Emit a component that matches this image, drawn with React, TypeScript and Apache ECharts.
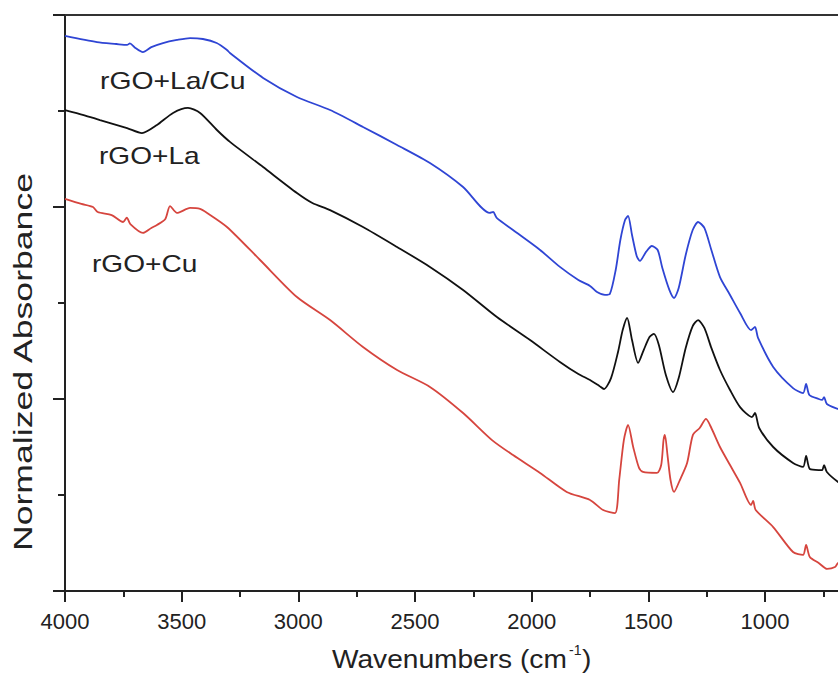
import React, { useEffect, useRef } from "react";
import * as echarts from "echarts";

// Wavenumber (cm-1), normalized absorbance (offset stacked, arbitrary units)
const laCuSpectrum: [number, number][] = [
  [4000, 2.891], [3863, 2.859], [3780, 2.849], [3734, 2.844], [3722, 2.852], [3700, 2.83],
  [3666, 2.807], [3630, 2.833], [3580, 2.854], [3520, 2.87], [3464, 2.88], [3409, 2.875],
  [3350, 2.854], [3306, 2.818], [3293, 2.802], [3151, 2.672], [3006, 2.573], [2864, 2.505],
  [2723, 2.417], [2577, 2.323], [2436, 2.229], [2294, 2.104], [2180, 1.969], [2165, 1.974],
  [2150, 1.943], [2080, 1.88], [1964, 1.776], [1879, 1.688], [1800, 1.62], [1750, 1.589],
  [1720, 1.557], [1686, 1.542], [1665, 1.547], [1640, 1.672], [1620, 1.828], [1600, 1.932],
  [1587, 1.953], [1570, 1.854], [1550, 1.745], [1536, 1.719], [1510, 1.766], [1485, 1.797],
  [1460, 1.776], [1440, 1.682], [1410, 1.568], [1390, 1.526], [1370, 1.578], [1340, 1.75],
  [1310, 1.88], [1287, 1.922], [1260, 1.891], [1230, 1.776], [1193, 1.635], [1150, 1.542],
  [1107, 1.448], [1060, 1.359], [1043, 1.375], [1030, 1.318], [965, 1.167], [880, 1.057],
  [837, 1.031], [824, 1.078], [810, 1.021], [770, 1.0], [755, 0.995], [747, 1.01],
  [735, 0.974], [687, 0.948], [650, 0.932],
];

const laSpectrum: [number, number][] = [
  [4000, 2.505], [3920, 2.479], [3850, 2.453], [3734, 2.411], [3670, 2.385], [3606, 2.427],
  [3537, 2.49], [3473, 2.516], [3421, 2.49], [3349, 2.401], [3293, 2.339], [3151, 2.208],
  [3006, 2.073], [2940, 2.021], [2864, 1.984], [2723, 1.896], [2577, 1.792], [2436, 1.688],
  [2294, 1.568], [2149, 1.427], [2007, 1.307], [1879, 1.193], [1800, 1.13], [1750, 1.099],
  [1710, 1.068], [1690, 1.052], [1660, 1.109], [1630, 1.245], [1610, 1.359], [1591, 1.422],
  [1570, 1.307], [1544, 1.188], [1520, 1.255], [1495, 1.323], [1476, 1.339], [1455, 1.281],
  [1425, 1.125], [1394, 1.036], [1370, 1.109], [1340, 1.266], [1310, 1.38], [1287, 1.411],
  [1260, 1.37], [1230, 1.266], [1193, 1.151], [1150, 1.047], [1107, 0.958], [1056, 0.906],
  [1043, 0.927], [1025, 0.849], [965, 0.75], [880, 0.667], [837, 0.646], [824, 0.703],
  [808, 0.635], [770, 0.63], [755, 0.63], [747, 0.656], [735, 0.62], [687, 0.568], [650, 0.542],
];

const cuSpectrum: [number, number][] = [
  [4000, 2.042], [3930, 2.016], [3880, 2.0], [3860, 1.974], [3800, 1.958], [3751, 1.922],
  [3735, 1.945], [3720, 1.911], [3666, 1.865], [3630, 1.891], [3606, 1.906], [3570, 1.938],
  [3550, 2.005], [3520, 1.969], [3464, 1.995], [3421, 1.99], [3391, 1.969], [3306, 1.896],
  [3164, 1.724], [3006, 1.531], [2864, 1.411], [2723, 1.271], [2577, 1.151], [2436, 1.063],
  [2294, 0.927], [2170, 0.786], [2080, 0.708], [1964, 0.615], [1850, 0.516], [1750, 0.474],
  [1694, 0.422], [1643, 0.406], [1625, 0.578], [1605, 0.786], [1587, 0.865], [1565, 0.75],
  [1540, 0.641], [1523, 0.62], [1463, 0.615], [1445, 0.656], [1435, 0.786], [1429, 0.813],
  [1418, 0.708], [1405, 0.578], [1390, 0.516], [1365, 0.578], [1334, 0.667], [1309, 0.813],
  [1280, 0.849], [1253, 0.896], [1230, 0.849], [1193, 0.75], [1150, 0.656], [1107, 0.563],
  [1060, 0.448], [1051, 0.469], [1040, 0.422], [965, 0.333], [880, 0.203], [837, 0.188],
  [824, 0.24], [808, 0.177], [770, 0.146], [734, 0.115], [700, 0.125], [687, 0.146], [650, 0.161],
];

const seriesNames = ["rGO+La/Cu", "rGO+La", "rGO+Cu"];
const seriesColors = ["#2f45d4", "#111111", "#d6453e"];
const xTitle = "Wavenumbers (cm";
const xTitleSup = "-1";
const yTitle = "Normalized Absorbance";

const FONT = '"Liberation Sans", Arial, sans-serif';
const INK = "#222222";

export default function App() {
  const ref = useRef<HTMLDivElement>(null);

  useEffect(() => {
    if (!ref.current) return;
    const chart = echarts.init(ref.current, undefined, { renderer: "svg" });
    const spectra = [laCuSpectrum, laSpectrum, cuSpectrum];

    const axisLine = { show: true, lineStyle: { color: INK, width: 2 } };

    chart.setOption({
      animation: false,
      backgroundColor: "#ffffff",
      grid: {
        left: 65,
        top: 15,
        width: 816.7,
        bottom: 93,
        containLabel: false,
        outerBoundsMode: "none",
      },
      xAxis: [
        {
          type: "value",
          inverse: true,
          min: 500,
          max: 4000,
          interval: 500,
          position: "bottom",
          axisLine,
          axisTick: { show: true, inside: false, length: 11, lineStyle: { color: INK, width: 2 } },
          minorTick: { show: true, splitNumber: 2, length: 6, lineStyle: { color: INK, width: 2 } },
          splitLine: { show: false },
          axisLabel: {
            show: true,
            margin: 19,
            color: INK,
            fontSize: 22,
            fontFamily: FONT,
            formatter: (v: number) => (v >= 1000 ? String(v) : ""),
          },
        },
        {
          type: "value",
          inverse: true,
          min: 500,
          max: 4000,
          position: "top",
          axisLine: { show: true, lineStyle: { color: "#333333", width: 2 } },
          axisTick: { show: false },
          axisLabel: { show: false },
          splitLine: { show: false },
        },
      ],
      yAxis: {
        type: "value",
        min: 0,
        max: 3,
        interval: 1,
        axisLine,
        axisTick: { show: true, inside: false, length: 12, lineStyle: { color: INK, width: 2 } },
        minorTick: { show: true, splitNumber: 2, length: 7, lineStyle: { color: INK, width: 2 } },
        splitLine: { show: false },
        axisLabel: { show: false },
      },
      series: spectra.map((data, i) => ({
        name: seriesNames[i],
        type: "line",
        data,
        showSymbol: false,
        symbol: "none",
        smooth: 0.25,
        lineStyle: { color: seriesColors[i], width: 1.8 },
        z: 3,
      })),
      graphic: [
        {
          type: "text",
          x: 100,
          y: 81,
          scaleX: 1.18,
          style: { text: seriesNames[0], font: `24px ${FONT}`, fill: INK, align: "left", verticalAlign: "middle" },
        },
        {
          type: "text",
          x: 99,
          y: 156,
          scaleX: 1.17,
          style: { text: seriesNames[1], font: `24px ${FONT}`, fill: INK, align: "left", verticalAlign: "middle" },
        },
        {
          type: "text",
          x: 92,
          y: 264,
          scaleX: 1.17,
          style: { text: seriesNames[2], font: `24px ${FONT}`, fill: INK, align: "left", verticalAlign: "middle" },
        },
        {
          type: "text",
          x: 332,
          y: 660,
          scaleX: 1.125,
          style: { text: xTitle, font: `25px ${FONT}`, fill: INK, align: "left", verticalAlign: "middle" },
        },
        {
          type: "text",
          x: 569,
          y: 650,
          style: { text: xTitleSup, font: `14px ${FONT}`, fill: INK, align: "left", verticalAlign: "middle" },
        },
        {
          type: "text",
          x: 582,
          y: 660,
          scaleX: 1.125,
          style: { text: ")", font: `25px ${FONT}`, fill: INK, align: "left", verticalAlign: "middle" },
        },
        {
          type: "text",
          x: 23,
          y: 362,
          rotation: Math.PI / 2,
          scaleX: 1.37,
          style: { text: yTitle, font: `26px ${FONT}`, fill: INK, align: "center", verticalAlign: "middle" },
        },
      ],
    });

    return () => chart.dispose();
  }, []);

  return (
    <div
      ref={ref}
      style={{ position: "fixed", left: 0, top: 0, width: 838, height: 684, background: "#fff" }}
    />
  );
}
